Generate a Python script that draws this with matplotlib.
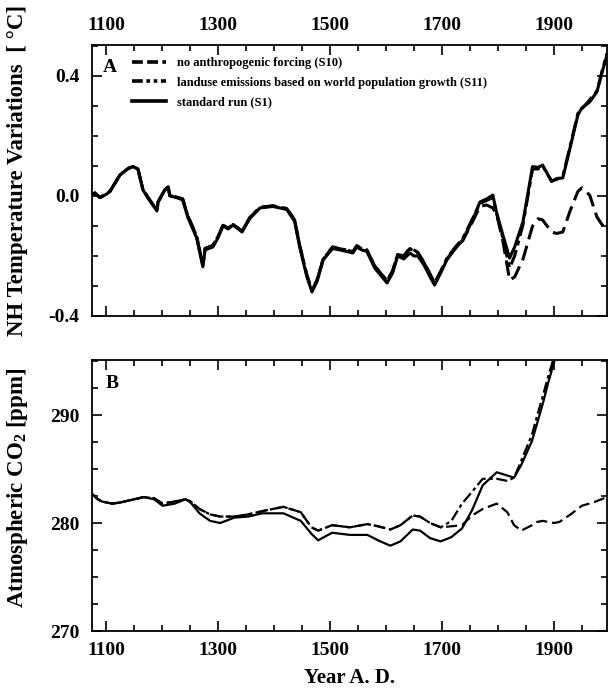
import matplotlib
matplotlib.use("Agg")
import matplotlib.pyplot as plt
from matplotlib.lines import Line2D
from matplotlib.ticker import MultipleLocator

# ---------------- data ----------------
temp_years = [1075, 1080, 1089, 1100, 1107, 1125, 1140, 1148, 1157, 1166, 1175, 1191, 1193, 1205,
              1211, 1214, 1225, 1237, 1246, 1262, 1273, 1277, 1291, 1300, 1309, 1318, 1327, 1343,
              1357, 1375, 1398, 1423, 1437, 1446, 1459, 1468, 1477, 1488, 1505, 1518, 1530, 1541,
              1548, 1557, 1566, 1580, 1602, 1612, 1621, 1632, 1643, 1650, 1657, 1668, 1679, 1687,
              1697, 1709, 1722, 1737, 1755, 1768, 1780, 1791, 1798, 1809, 1821, 1830, 1845, 1862,
              1872, 1880, 1896, 1905, 1916, 1929, 1943, 1950, 1964, 1977, 1986, 1995]
temp_s1 = [0.000, 0.010, -0.005, 0.005, 0.015, 0.070, 0.092, 0.098, 0.090, 0.020, -0.007, -0.050,
           -0.020, 0.020, 0.030, 0.000, -0.005, -0.013, -0.070, -0.140, -0.236, -0.180, -0.170,
           -0.140, -0.100, -0.110, -0.097, -0.120, -0.075, -0.040, -0.035, -0.045, -0.085, -0.170,
           -0.270, -0.320, -0.285, -0.213, -0.175, -0.180, -0.185, -0.190, -0.170, -0.180, -0.185,
           -0.240, -0.290, -0.257, -0.200, -0.210, -0.190, -0.200, -0.200, -0.230, -0.270, -0.297,
           -0.260, -0.213, -0.180, -0.147, -0.080, -0.020, -0.010, 0.003, -0.057, -0.130, -0.207,
           -0.170, -0.085, 0.098, 0.095, 0.103, 0.048, 0.058, 0.060, 0.160, 0.270, 0.293, 0.313,
           0.347, 0.410, 0.470]
temp_s11 = [0.000, 0.010, -0.005, 0.005, 0.015, 0.070, 0.092, 0.098, 0.090, 0.022, -0.005, -0.048,
            -0.020, 0.020, 0.030, 0.002, -0.003, -0.010, -0.065, -0.135, -0.230, -0.175, -0.165,
            -0.135, -0.098, -0.107, -0.095, -0.117, -0.072, -0.038, -0.033, -0.042, -0.080, -0.165,
            -0.265, -0.315, -0.280, -0.210, -0.170, -0.176, -0.180, -0.186, -0.166, -0.176, -0.180,
            -0.233, -0.283, -0.250, -0.195, -0.200, -0.175, -0.185, -0.190, -0.222, -0.262, -0.292,
            -0.255, -0.208, -0.175, -0.142, -0.075, -0.025, -0.015, -0.005, -0.060, -0.140, -0.240,
            -0.200, -0.095, 0.090, 0.090, 0.100, 0.050, 0.055, 0.065, 0.165, 0.275, 0.290, 0.320,
            0.350, 0.415, 0.475]
temp_s10 = [0.000, 0.010, -0.005, 0.005, 0.015, 0.070, 0.092, 0.098, 0.090, 0.022, -0.005, -0.048,
            -0.020, 0.020, 0.030, 0.002, -0.003, -0.010, -0.065, -0.135, -0.230, -0.175, -0.165,
            -0.135, -0.098, -0.107, -0.095, -0.117, -0.072, -0.038, -0.033, -0.042, -0.080, -0.165,
            -0.265, -0.315, -0.280, -0.210, -0.170, -0.176, -0.180, -0.186, -0.166, -0.176, -0.180,
            -0.233, -0.283, -0.250, -0.195, -0.200, -0.172, -0.180, -0.188, -0.220, -0.260, -0.290,
            -0.255, -0.210, -0.178, -0.150, -0.085, -0.035, -0.030, -0.040, -0.062, -0.150, -0.280,
            -0.270, -0.210, -0.100, -0.076, -0.080, -0.120, -0.125, -0.120, -0.050, 0.015, 0.027,
            0.003, -0.070, -0.095, -0.113]

co2_years = [1075, 1083, 1092, 1111, 1125, 1142, 1167, 1186, 1201, 1223, 1242, 1251, 1267, 1286,
             1304, 1329, 1354, 1379, 1417, 1448, 1467, 1479, 1504, 1536, 1567, 1586, 1608, 1626,
             1648, 1661, 1679, 1698, 1717, 1736, 1754, 1773, 1798, 1817, 1829, 1842, 1861, 1870,
             1880, 1890, 1900, 1910, 1930, 1950, 1970, 1995]
co2_s1 = [282.7, 282.3, 282.0, 281.8, 281.9, 282.1, 282.4, 282.2, 281.6, 281.8, 282.2, 281.9, 280.9,
          280.2, 280.0, 280.5, 280.6, 280.9, 280.9, 280.2, 279.0, 278.4, 279.1, 278.9, 278.9, 278.4,
          277.9, 278.3, 279.4, 279.3, 278.6, 278.3, 278.7, 279.5, 281.2, 283.5, 284.7, 284.4, 284.2,
          285.4, 287.6, 289.2, 291.0, 293.0, 294.8, 297.2, 303.0, 311.0, 325.0, 355.0]
co2_s11 = [282.7, 282.3, 282.0, 281.8, 281.9, 282.1, 282.4, 282.3, 281.8, 282.0, 282.2, 282.0, 281.3,
           280.8, 280.6, 280.6, 280.8, 281.1, 281.5, 281.0, 279.6, 279.3, 279.8, 279.6, 279.9, 279.7,
           279.4, 279.8, 280.7, 280.6, 280.0, 279.6, 280.2, 281.8, 282.9, 284.1, 284.1, 283.9, 284.2,
           285.8, 288.2, 289.9, 291.7, 293.6, 295.3, 297.6, 303.5, 311.5, 325.5, 355.5]
co2_s10 = [282.7, 282.3, 282.0, 281.8, 281.9, 282.1, 282.4, 282.3, 281.8, 282.0, 282.2, 282.0, 281.3,
           280.8, 280.6, 280.6, 280.8, 281.1, 281.5, 281.0, 279.6, 279.3, 279.8, 279.6, 279.9, 279.7,
           279.4, 279.8, 280.7, 280.6, 280.0, 279.6, 279.7, 279.8, 280.7, 281.3, 281.8, 281.0, 279.8,
           279.3, 279.8, 280.1, 280.2, 280.1, 280.0, 280.1, 280.8, 281.6, 281.9, 282.4]

legend_labels = ["no anthropogenic forcing (S10)",
                 "landuse emissions based on world population growth (S11)",
                 "standard run (S1)"]
x_ticks = [1100, 1300, 1500, 1700, 1900]
temp_ticks = [-0.4, 0.0, 0.4]
co2_ticks = [270, 280, 290]

# ---------------- style ----------------
plt.rcParams['font.family'] = ['Liberation Serif', 'DejaVu Serif']
plt.rcParams['font.weight'] = 'bold'
plt.rcParams['mathtext.fontset'] = 'custom'
plt.rcParams['mathtext.rm'] = 'Liberation Serif:bold'
plt.rcParams['mathtext.bf'] = 'Liberation Serif:bold'
plt.rcParams['mathtext.default'] = 'rm'

W, H = 608, 690
fig = plt.figure(figsize=(W / 100, H / 100), dpi=100)

def ax_rect(l, t, r, b):
    return [l / W, 1 - b / H, (r - l) / W, (b - t) / H]

axA = fig.add_axes(ax_rect(92, 45, 607, 316))
axB = fig.add_axes(ax_rect(92, 360, 607, 631))

DASHED = (0, (5, 2.2))
DASHDOT = (0, (5, 1.6, 1.6, 1.6))

lwA = 2.2
axA.plot(temp_years, temp_s10, color='black', lw=lwA, linestyle=DASHED)
axA.plot(temp_years, temp_s11, color='black', lw=lwA, linestyle=DASHDOT)
axA.plot(temp_years, temp_s1, color='black', lw=lwA, linestyle='-')

lwB = 1.6
axB.plot(co2_years, co2_s10, color='black', lw=lwB, linestyle=DASHED)
axB.plot(co2_years, co2_s11, color='black', lw=lwB, linestyle=DASHDOT)
axB.plot(co2_years, co2_s1, color='black', lw=lwB, linestyle='-')

for ax in (axA, axB):
    ax.set_xlim(1075, 1995)
    ax.set_xticks(x_ticks)
    ax.xaxis.set_minor_locator(MultipleLocator(50))
    ax.tick_params(which='both', direction='in', top=True, right=True, labelsize=14, width=1.2)
    ax.tick_params(which='major', length=7)
    ax.tick_params(which='minor', length=4)
    for s in ax.spines.values():
        s.set_linewidth(1.3)

axA.set_ylim(-0.4, 0.503)
axA.set_yticks(temp_ticks)
axA.set_yticklabels(['-0.4', '0.0', '0.4'])
axA.yaxis.set_minor_locator(MultipleLocator(0.1))
axA.tick_params(axis='x', labeltop=True, labelbottom=False, pad=8)
axA.tick_params(axis='y', pad=9)

axB.set_ylim(270, 295.1)
axB.set_yticks(co2_ticks)
axB.yaxis.set_minor_locator(MultipleLocator(2.5))
axB.tick_params(axis='x', pad=8)
axB.tick_params(axis='y', pad=9)

for ax in (axA, axB):
    for lab in ax.get_xticklabels() + ax.get_yticklabels():
        lab.set_fontweight('bold')

axA.text(0.035, 0.918, 'A', transform=axA.transAxes, fontsize=14, fontweight='bold',
         ha='center', va='center')
axB.text(0.039, 0.915, 'B', transform=axB.transAxes, fontsize=14, fontweight='bold',
         ha='center', va='center')

handles = [Line2D([], [], color='black', lw=2.6, linestyle=(0, (3, 1.2))),
           Line2D([], [], color='black', lw=2.6, linestyle=(0, (3, 1, 1, 1, 1, 1))),
           Line2D([], [], color='black', lw=2.6, linestyle='-')]
leg = axA.legend(handles, legend_labels, loc='upper left',
                 bbox_to_anchor=((132 - 92) / 515, (316 - 57) / 271),
                 frameon=False, handlelength=2.7, handletextpad=0.9,
                 borderpad=0, borderaxespad=0, labelspacing=0.62,
                 prop={'weight': 'bold', 'size': 9})

fig.text(18 / W, 1 - 170 / H, 'NH Temperature Variations  [ °C]', rotation=90,
         ha='center', va='center', fontsize=16.5, fontweight='bold')
fig.text(18 / W, 1 - 488 / H, 'Atmospheric CO$_2$ [ppm]', rotation=90,
         ha='center', va='center', fontsize=16.5, fontweight='bold')
fig.text(349 / W, 1 - 678 / H, 'Year A. D.', ha='center', va='center',
         fontsize=15, fontweight='bold')

fig.savefig('out.png', dpi=100)
